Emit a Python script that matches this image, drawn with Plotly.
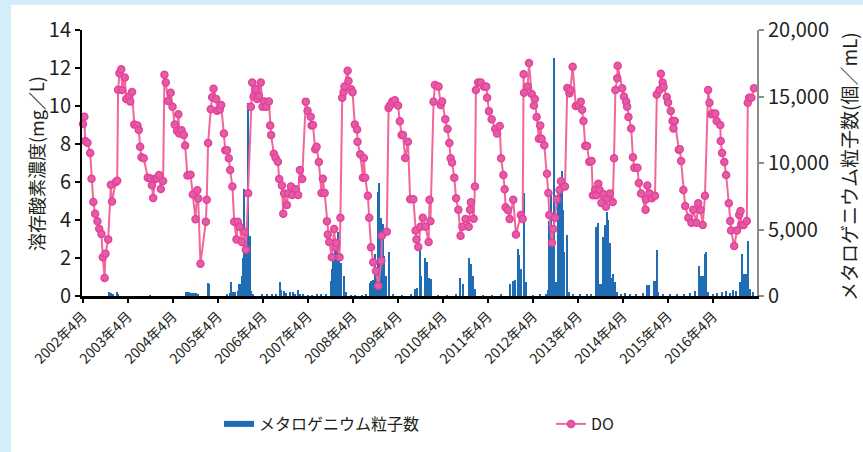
import datetime as dt
import plotly.graph_objects as go

# ---------------- data ----------------
ORIGIN = dt.datetime(2002, 4, 1)

# DO: time in years after April 2002, value mg/L
do_t = [0.00,0.03,0.05,0.10,0.16,0.19,0.23,0.27,0.32,0.36,0.41,0.44,0.48,0.50,0.56,0.62,0.645,0.73,0.76,
        0.78,0.81,0.85,0.87,0.93,0.96,1.02,1.05,1.09,1.14,1.21,1.24,1.27,1.30,1.35,1.44,1.50,1.53,1.56,1.60,1.64,1.69,1.73,1.78,
        1.81,1.84,1.89,1.95,1.99,2.04,2.09,2.12,2.14,2.19,2.24,2.27,2.32,2.39,2.44,2.50,2.54,2.56,2.61,2.73,2.75,
        2.78,2.84,2.87,2.90,2.96,2.98,3.04,3.07,3.13,3.16,3.20,3.24,3.27,3.32,3.36,3.41,3.44,3.48,3.53,3.59,3.62,3.67,
        3.73,3.76,3.79,3.84,3.87,3.91,3.95,3.99,4.03,4.07,4.13,4.16,4.18,4.24,4.28,4.33,4.36,4.42,4.45,4.47,4.53,4.56,4.62,4.65,4.73,4.78,4.82,4.87,
        4.95,4.99,5.06,5.08,5.11,5.16,5.19,5.24,5.30,5.33,5.37,5.42,5.44,5.47,5.53,5.58,5.61,5.63,5.70,5.72,
        5.76,5.79,5.81,5.88,5.90,5.96,5.99,6.04,6.09,6.10,6.16,6.22,6.24,6.27,6.33,6.36,6.40,6.45,6.51,6.56,6.63,6.64,6.75,
        6.79,6.82,6.87,6.93,7.00,7.04,7.08,7.11,7.16,7.22,7.27,7.34,7.39,7.41,7.45,7.50,7.55,7.61,7.68,7.70,7.72,
        7.79,7.82,7.90,7.95,7.98,8.05,8.10,8.14,8.17,8.20,8.25,8.29,8.34,8.39,8.43,8.50,8.57,8.60,8.62,8.68,8.71,
        8.73,8.78,8.84,8.91,8.96,8.98,9.02,9.08,9.16,9.20,9.26,9.29,9.34,9.37,9.39,9.44,9.48,9.56,9.62,9.73,9.77,
        9.79,9.80,9.88,9.91,9.97,10.02,10.04,10.08,10.13,10.16,10.19,10.25,10.31,10.34,10.36,10.42,10.45,10.49,10.53,10.59,10.62,10.71,
        10.76,10.81,10.83,10.88,10.95,11.01,11.06,11.09,11.12,11.16,11.20,11.25,11.30,11.33,11.38,11.41,11.45,11.48,11.52,11.57,11.62,11.65,11.71,11.77,11.80,
        11.83,11.87,11.88,11.98,12.02,12.07,12.09,12.12,12.18,12.22,12.25,12.32,12.35,12.40,12.50,12.51,12.54,12.59,12.64,12.71,
        12.75,12.81,12.84,12.88,12.90,12.97,13.00,13.06,13.10,13.12,13.15,13.24,13.26,13.29,13.34,13.38,13.45,13.52,13.56,13.63,13.67,13.72,13.77,13.82,
        13.89,13.92,13.96,14.00,14.05,14.08,14.16,14.17,14.20,14.25,14.29,14.35,14.38,14.40,14.47,14.53,14.58,14.61,14.63,14.68,14.75,
        14.77,14.80,14.85,14.91]
do_v = [9.05,9.44,8.16,8.07,7.53,6.17,4.95,4.33,3.93,3.54,3.26,2.04,0.95,2.23,2.98,5.85,4.97,6.0,6.07,
        10.85,11.72,11.93,10.84,11.5,10.37,10.5,10.24,10.74,9.02,8.97,8.74,7.86,7.3,7.25,6.23,6.19,5.83,5.16,6.16,6.2,6.37,5.63,6.05,
        11.65,11.24,10.26,10.7,9.96,9.02,8.69,9.56,8.55,8.72,8.47,7.92,6.34,6.38,5.34,4.04,5.57,5.13,1.7,3.91,5.07,
        8.05,9.83,10.46,10.91,10.37,9.75,9.82,10.05,8.55,7.67,7.67,7.25,6.63,5.76,3.91,2.98,3.91,3.65,2.84,3.38,2.44,5.41,
        9.96,11.24,10.5,10.9,10.37,10.53,11.24,9.96,10.24,9.96,10.24,8.97,8.47,7.49,7.28,7.07,6.16,5.81,4.33,5.4,4.79,5.4,5.76,5.32,5.62,5.32,6.63,6.16,
        10.23,9.75,9.44,8.97,9.0,7.72,7.86,7.05,5.42,6.17,5.42,3.93,3.24,2.84,2.04,3.53,2.56,2.79,2.04,4.12,
        10.44,10.72,11.02,11.86,11.31,10.88,10.72,9.02,8.76,8.12,7.46,6.23,7.26,6.23,5.28,4.12,2.56,1.77,1.31,0.54,1.84,3.17,3.38,
        9.9,10.03,10.23,10.3,10.03,9.2,8.47,8.47,7.26,8.12,5.09,5.09,3.45,2.98,2.58,3.65,4.12,3.65,2.84,5.07,3.93,
        10.23,11.11,11.02,10.05,10.24,9.3,8.79,8.05,7.25,7.03,6.23,5.14,4.54,3.17,3.65,4.05,3.65,4.54,4.93,4.07,5.76,
        10.84,11.24,11.24,11.02,11.02,10.44,9.73,9.3,8.79,8.55,8.95,7.25,6.37,5.62,4.67,4.53,4.05,5.07,3.24,4.26,4.05,
        11.67,10.70,11.02,12.26,10.63,10.03,10.37,9.42,8.28,8.97,8.28,7.93,6.44,5.42,4.26,2.80,3.53,4.12,5.09,5.58,6.04,5.76,
        10.95,10.67,10.84,12.07,10.0,10.03,10.23,9.8,9.21,7.91,7.9,7.07,7.1,5.3,5.6,5.3,5.91,5.58,4.9,5.35,4.7,5.14,5.40,4.95,7.25,
        10.84,11.46,12.12,10.93,10.5,10.23,9.96,9.42,8.82,7.3,6.75,6.75,5.95,5.40,4.54,5.09,5.81,5.4,5.14,5.28,
        10.61,10.84,11.70,11.24,11.0,10.47,10.19,9.74,9.21,8.82,9.21,7.70,7.73,7.1,5.58,4.74,4.12,3.86,4.54,3.86,4.88,4.53,3.74,5.28,
        10.84,10.17,9.56,9.6,9.6,9.21,9.0,8.16,7.53,7.05,6.37,4.88,3.95,3.45,2.63,3.45,4.26,4.47,3.74,3.74,3.95,
        10.17,10.44,10.44,10.93]

# Metallogenium particle counts (particles/mL)
bar_t = [0.585,0.60,0.62,0.67,0.76,0.78,1.50,2.30,2.33,2.36,2.40,2.44,2.48,2.52,2.56,2.77,2.80,
         3.21,3.26,3.30,3.34,3.39,3.44,3.47,3.50,3.53,3.56,3.585,3.62,3.66,3.68,3.71,3.74,3.78,
         3.97,4.10,4.21,4.30,4.38,4.40,4.47,4.52,4.61,4.66,4.72,4.78,4.82,4.90,
         5.00,5.10,5.20,5.30,5.40,5.51,5.54,5.56,5.60,5.63,5.67,5.70,5.73,5.80,5.84,
         5.95,6.05,6.20,6.30,6.38,6.41,6.45,6.49,6.53,6.56,6.59,6.63,6.66,6.70,6.73,6.80,
         6.90,7.10,7.30,7.38,7.43,7.49,7.52,7.60,7.64,7.68,7.73,
         7.90,8.10,8.30,8.38,8.45,8.59,8.62,8.66,8.72,
         8.90,9.10,9.30,9.48,9.56,9.60,9.67,9.70,9.73,9.80,9.84,
         10.00,10.15,10.30,10.34,10.36,10.40,10.43,10.46,10.49,10.53,10.56,10.60,10.64,10.67,10.70,10.75,10.81,
         10.90,11.05,11.20,11.30,11.40,11.45,11.49,11.53,11.56,11.60,11.64,11.67,11.71,11.75,11.79,11.82,11.87,
         11.95,12.05,12.15,12.30,12.45,12.54,12.58,12.69,12.71,12.75,12.78,
         12.90,13.05,13.20,13.35,13.50,13.60,13.70,13.73,13.77,13.82,13.84,13.90,
         14.00,14.10,14.20,14.30,14.38,14.45,14.52,14.61,14.65,14.69,14.73,14.78,14.82,14.90]
bar_v = [300,250,200,150,280,150,40,300,280,290,260,250,240,200,180,950,880,
         150,200,1078,300,320,400,880,900,1500,2832,8045,3600,14537,9000,4536,400,150,
         80,100,80,120,1078,450,370,200,320,300,150,450,150,80,
         60,60,80,80,100,1128,2000,3082,4335,3500,4837,3710,2500,1504,300,
         60,50,60,150,1000,1130,1180,3183,1880,7845,8520,5890,5390,3000,1500,3283,
         80,60,100,500,600,3900,1500,2882,2580,1380,1253,
         60,60,80,1378,940,2882,2380,1500,500,
         60,60,80,940,1128,1200,3508,3082,2000,7720,1050,
         60,80,100,450,5640,7845,5340,17917,1050,1050,7720,8600,9400,6467,3283,4586,330,
         80,100,120,150,5215,5465,940,940,4461,5340,6340,5715,3960,1380,1630,1050,330,
         150,200,120,150,200,790,790,1128,1128,3458,330,
         100,100,150,150,200,350,2255,1504,1504,3132,3333,330,
         150,200,300,370,250,450,350,1050,3183,1680,1680,4160,530,300]

tick_dates = ["2002-04-01","2003-04-01","2004-04-01","2005-04-01","2006-04-01","2007-04-01","2008-04-01",
              "2009-04-01","2010-04-01","2011-04-01","2012-04-01","2013-04-01","2014-04-01","2015-04-01","2016-04-01"]
tick_labels = ["2002年4月","2003年4月","2004年4月","2005年4月","2006年4月","2007年4月","2008年4月",
               "2009年4月","2010年4月","2011年4月","2012年4月","2013年4月","2014年4月","2015年4月","2016年4月"]
do_ticks = [0, 2, 4, 6, 8, 10, 12, 14]
cnt_ticks = [0, 5000, 10000, 15000, 20000]
cnt_tick_labels = ["0", "5,000", "10,000", "15,000", "20,000"]

def to_date(t):
    return ORIGIN + dt.timedelta(days=t * 365.25)

do_x = [to_date(t) for t in do_t]
bar_x = [to_date(t) for t in bar_t]

FONT = "Noto Sans CJK JP"
TXT = "#231f20"
BLUE = "#1f6db5"
PINK_LINE = "#f2679a"
PINK_MK = "#df5ea5"
PINK_RING = "#e8409a"

fig = go.Figure()
fig.add_trace(go.Bar(x=bar_x, y=bar_v, yaxis="y", marker=dict(color=BLUE, line=dict(width=0)),
                     width=10 * 86400000, showlegend=False, name="メタロゲニウム粒子数"))
fig.add_trace(go.Scatter(x=do_x, y=do_v, yaxis="y2", mode="lines+markers", name="DO",
                         line=dict(color=PINK_LINE, width=2),
                         marker=dict(size=7, color=PINK_MK, line=dict(color=PINK_RING, width=1.5)),
                         cliponaxis=False, showlegend=False))
# legend entries (two separate legends for exact placement)
fig.add_trace(go.Scatter(x=[None], y=[None], yaxis="y", mode="lines", name="メタロゲニウム粒子数",
                         line=dict(color=BLUE, width=6), legend="legend"))
fig.add_trace(go.Scatter(x=[None], y=[None], yaxis="y2", mode="lines+markers", name="DO",
                         line=dict(color=PINK_LINE, width=2),
                         marker=dict(size=7, color=PINK_MK, line=dict(color=PINK_RING, width=1.5)),
                         legend="legend2"))

L, R, T, B = 82, 106, 30, 156
W, H = 863, 452
pw, ph = W - L - R, H - T - B

def px_x(p):
    return (p - L) / pw

def px_y(p):
    return (H - B - p) / ph

legend_font = dict(size=16, family=FONT, color=TXT)

fig.update_layout(
    width=W, height=H,
    margin=dict(l=L, r=R, t=T, b=B, autoexpand=False),
    paper_bgcolor="#d3eef9",
    plot_bgcolor="white",
    font=dict(family=FONT, color=TXT),
    bargap=0,
    xaxis=dict(type="date", range=["2002-03-24", "2017-03-23"],
               tickvals=tick_dates, ticktext=tick_labels, tickangle=-45,
               tickfont=dict(size=14, family=FONT, color=TXT),
               showline=True, linecolor="black", linewidth=2.5,
               ticks="outside", ticklen=4, tickwidth=2, tickcolor="black",
               showgrid=False, zeroline=False, automargin=False),
    yaxis=dict(side="right", range=[0, 20000], tickvals=cnt_ticks, ticktext=cnt_tick_labels,
               tickfont=dict(size=20, family=FONT, color=TXT),
               showline=True, linecolor="#8c8c8c", linewidth=2,
               ticks="outside", ticklen=5, tickwidth=2, tickcolor="#8c8c8c",
               showgrid=False, zeroline=False, automargin=False),
    yaxis2=dict(side="left", overlaying="y", range=[0, 14], tickvals=do_ticks,
                tickfont=dict(size=20, family=FONT, color=TXT),
                showline=True, linecolor="black", linewidth=2,
                ticks="outside", ticklen=5, tickwidth=2, tickcolor="black",
                showgrid=False, zeroline=False, automargin=False),
    legend=dict(orientation="h", x=px_x(219), y=px_y(424), xanchor="left", yanchor="middle",
                font=legend_font, bgcolor="rgba(0,0,0,0)"),
    legend2=dict(orientation="h", x=px_x(551), y=px_y(424), xanchor="left", yanchor="middle",
                 font=legend_font, bgcolor="rgba(0,0,0,0)"),
    shapes=[dict(type="rect", xref="paper", yref="paper", layer="below",
                 x0=px_x(11), x1=px_x(W + 10), y0=px_y(H + 10), y1=px_y(5),
                 fillcolor="white", line=dict(width=0))],
    annotations=[
        dict(text="溶存酸素濃度(mg／L)", xref="paper", yref="paper", x=px_x(36), y=px_y(164),
             textangle=-90, showarrow=False, font=dict(size=18, family=FONT, color=TXT),
             xanchor="center", yanchor="middle"),
        dict(text="メタロゲニウム粒子数(個／mL)", xref="paper", yref="paper", x=px_x(848), y=px_y(166),
             textangle=-90, showarrow=False, font=dict(size=19, family=FONT, color=TXT),
             xanchor="center", yanchor="middle"),
    ],
)

fig.write_html("out.html", config={"displayModeBar": False},
               post_script="document.body.style.margin='0';document.body.style.overflow='hidden';")
